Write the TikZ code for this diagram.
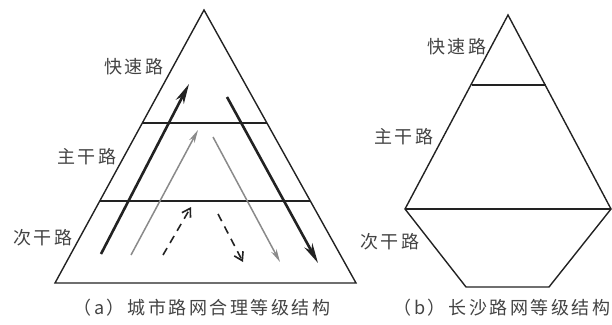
\documentclass[tikz,border=0pt]{standalone}
\usepackage{fontspec}
\newfontfamily\cjk[LetterSpace=14]{Noto Sans CJK SC}
\usetikzlibrary{arrows.meta}
\definecolor{dk}{HTML}{222222}
\definecolor{gy}{HTML}{8A8A8A}
\tikzset{
  lbl/.style={font=\cjk\fontsize{18}{20}\selectfont, text=dk!85, inner sep=0pt},
  frame/.style={draw=dk, line width=1.4pt, line join=miter},
  thickarr/.style={draw=dk, line width=2.6pt, -{Stealth[length=20pt,width=9pt,inset=6pt]}},
  grayarr/.style={draw=gy, line width=1.5pt, -{Stealth[length=13pt,width=6pt,inset=4pt]}},
  dasharr/.style={draw=dk, line width=1.6pt, dash pattern=on 8pt off 6pt, -{Straight Barb[length=8pt,width=10pt,line width=1.6pt]}}
}
\begin{document}
\begin{tikzpicture}[x=1pt,y=-1pt]
\useasboundingbox (0,0) rectangle (612,324);
% left triangle
\coordinate (A) at (204,10);
\coordinate (BL) at (55,283);
\coordinate (BR) at (356,283);
\draw[frame] (A) -- (BL) -- (BR) -- cycle;
\coordinate (L1l) at (142,123); \coordinate (L1r) at (267,123);
\coordinate (L2l) at (100,201); \coordinate (L2r) at (310,201);
\draw[frame] (L1l) -- (L1r);
\draw[frame] (L2l) -- (L2r);
% arrows
\coordinate (t1s) at (101,254); \coordinate (t1e) at (189,84);
\coordinate (g1s) at (131,255); \coordinate (g1e) at (198,130);
\coordinate (d1s) at (163,255); \coordinate (d1e) at (191,207);
\coordinate (d2s) at (218,214); \coordinate (d2e) at (243,262);
\coordinate (g2s) at (213,137); \coordinate (g2e) at (280,262);
\coordinate (t2s) at (227,97);  \coordinate (t2e) at (318,263);
\draw[thickarr] (t1s) -- (t1e);
\draw[grayarr] (g1s) -- (g1e);
\draw[dasharr] (d1s) -- (d1e);
\draw[dasharr] (d2s) -- (d2e);
\draw[grayarr] (g2s) -- (g2e);
\draw[thickarr] (t2s) -- (t2e);
% left labels
\node[lbl] (la1) at (134,67) {快速路};
\node[lbl] (la2) at (87,157) {主干路};
\node[lbl] (la3) at (43,238) {次干路};
% right shape
\coordinate (RA) at (508,15);
\coordinate (R1l) at (472,85); \coordinate (R1r) at (546,85);
\coordinate (R2l) at (405,209); \coordinate (R2r) at (611,209);
\coordinate (R3l) at (466,287); \coordinate (R3r) at (549,287);
\draw[frame] (RA) -- (R2l) -- (R3l) -- (R3r) -- (R2r) -- cycle;
\draw[frame] (R1l) -- (R1r);
\draw[frame] (R2l) -- (R2r);
\node[lbl] (lb1) at (457,47) {快速路};
\node[lbl] (lb2) at (404,137) {主干路};
\node[lbl] (lb3) at (390,242) {次干路};
% captions
\node[lbl] (capa) at (202,308) {（a）城市路网合理等级结构};
\node[lbl] (capb) at (502,308) {（b）长沙路网等级结构};
\end{tikzpicture}
\end{document}
